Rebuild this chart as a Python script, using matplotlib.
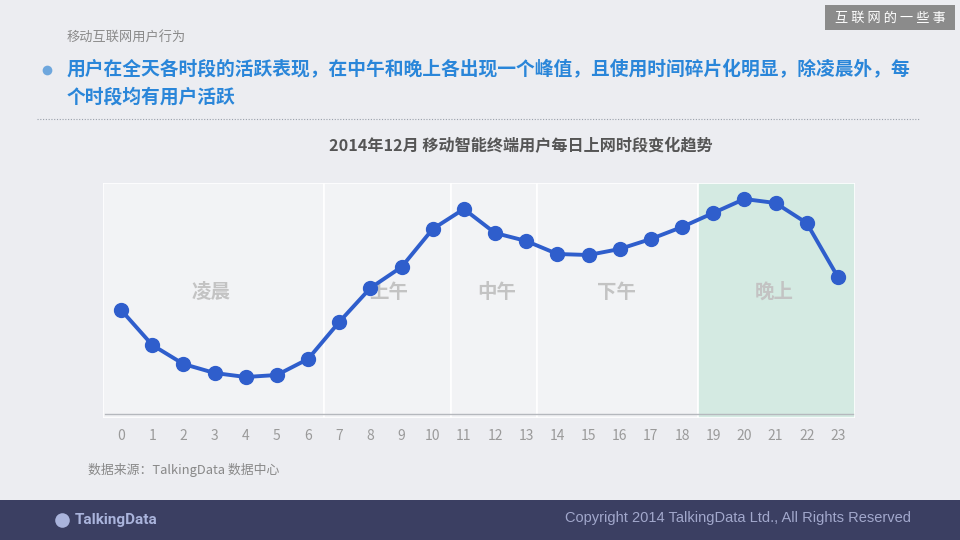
import matplotlib.pyplot as plt
from matplotlib.patches import Rectangle

plt.rcParams['font.family'] = ['Noto Sans CJK SC', 'DejaVu Sans']

# 每小时活跃度（读图估计，相对值）
hours = list(range(24))
activity = [104, 69, 50, 41, 37, 39, 55, 92, 126, 147, 185, 205,
            181, 173, 160, 159, 165, 175, 187, 201, 215, 211, 191, 137]

# 时段划分
periods = ["凌晨", "上午", "中午", "下午", "晚上"]
period_start = [-0.58, 6.5, 10.6, 13.35, 18.5]
period_end = [6.5, 10.6, 13.35, 18.5, 23.55]
period_label_x = [2.9, 8.6, 12.05, 15.9, 20.95]

fig = plt.figure(figsize=(9.6, 5.4), dpi=100)
fig.patch.set_facecolor("#ecedf1")

# 页脚
fig.patches.append(Rectangle((0, 0), 1, 40 / 540, transform=fig.transFigure,
                             facecolor="#3b3f62", edgecolor="none", zorder=0))
fig.lines.append(plt.Line2D([62 / 960], [20 / 540], transform=fig.transFigure,
                            marker="o", markersize=12, color="#aab4dc",
                            markeredgecolor="#3b3f62", markeredgewidth=1.5))
fig.text(75 / 960, 20 / 540, "TalkingData", color="#aab4dc", fontsize=11,
         fontweight="bold", va="center", ha="left",
         family=["Roboto", "DejaVu Sans"])
fig.text(911 / 960, 22 / 540, "Copyright 2014 TalkingData Ltd., All Rights Reserved",
         color="#a2a8cc", fontsize=10.5, va="center", ha="right",
         family=["Liberation Sans", "DejaVu Sans"])

# 右上角标签
fig.patches.append(Rectangle((825 / 960, 1 - 30 / 540), 130 / 960, 25 / 540,
                             transform=fig.transFigure, facecolor="#8b8b8b",
                             edgecolor="none"))
fig.text(890 / 960, 1 - 18 / 540, "互 联 网 的 一 些 事", color="white",
         fontsize=9.5, ha="center", va="center")

# 标题区
fig.text(67 / 960, 1 - 38 / 540, "移动互联网用户行为", color="#8a8a8a",
         fontsize=9.5, va="center")
fig.lines.append(plt.Line2D([47 / 960], [1 - 70 / 540], transform=fig.transFigure,
                            marker="o", markersize=7, color="#6ea7dd",
                            markeredgewidth=0))
fig.text(67 / 960, 1 - 70 / 540,
         "用户在全天各时段的活跃表现，在中午和晚上各出现一个峰值，且使用时间碎片化明显，除凌晨外，每",
         color="#2a86d9", fontsize=13.5, fontweight="bold", va="center")
fig.text(67 / 960, 1 - 97 / 540, "个时段均有用户活跃",
         color="#2a86d9", fontsize=13.5, fontweight="bold", va="center")
fig.lines.append(plt.Line2D([37 / 960, 920 / 960], [1 - 119 / 540, 1 - 119 / 540],
                            transform=fig.transFigure, color="#9aa0aa",
                            linestyle=(0, (1, 1.5)), linewidth=0.8))

fig.text(521 / 960, 1 - 146 / 540, "2014年12月 移动智能终端用户每日上网时段变化趋势",
         color="#555555", fontsize=11.6, fontweight="bold", ha="center", va="center")

fig.text(88 / 960, 1 - 470 / 540, "数据来源：TalkingData 数据中心",
         color="#888888", fontsize=9.3, va="center")

# 图表
ax = fig.add_axes([103 / 960, (540 - 418) / 540, 752 / 960, 235 / 540])
ax.set_facecolor("none")
ax.set_xlim(-0.58, 23.55)
ax.set_ylim(-4, 231)

for i, name in enumerate(periods):
    color = "#d4eae2" if name == "晚上" else "#f2f3f5"
    ax.axvspan(period_start[i], period_end[i], facecolor=color,
               edgecolor="white", linewidth=1.2, zorder=0)
    ax.text(period_label_x[i], 122, name, color="#c3c3c3", fontsize=14,
            fontweight="bold", ha="center", va="center", zorder=1)

ax.axhline(0, xmin=0.003, xmax=0.997, color="#b5b8bd", linewidth=1, zorder=2)

ax.plot(hours, activity, color="#2f5ecc", linewidth=2.8, marker="o",
        markersize=10, zorder=3, clip_on=False)

ax.set_xticks(hours)
ax.set_xticklabels([str(h) for h in hours])
ax.tick_params(axis="x", length=0, pad=8, labelsize=10, labelcolor="#9a9a9a")
ax.set_yticks([])
for s in ax.spines.values():
    s.set_visible(False)

plt.savefig("out.png", dpi=100, facecolor=fig.get_facecolor())
